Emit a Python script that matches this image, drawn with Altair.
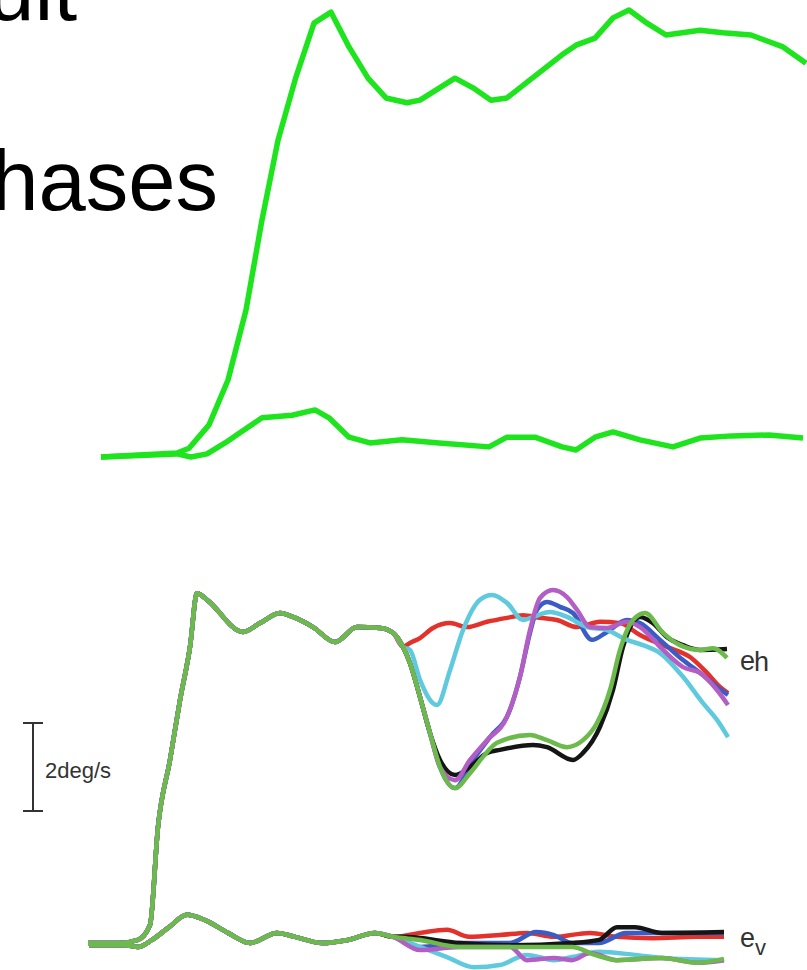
import altair as alt
import pandas as pd

# ---------------- top panel (slide): two green speed traces ----------------
top_t_upper = [0, 76, 88, 108, 127, 145, 161, 177, 195, 213, 230, 248, 267, 285, 306, 319, 354, 372, 390, 406,
               429, 461, 475, 494, 512, 528, 546, 565, 599, 622, 650, 682, 705]
top_v_upper = [0, 0.09, 0.20, 0.73, 1.75, 3.34, 5.39, 7.20, 8.64, 9.86, 10.11, 9.32, 8.61, 8.16, 8.05, 8.11, 8.61,
               8.39, 8.11, 8.16, 8.57, 9.14, 9.36, 9.52, 9.98, 10.16, 9.86, 9.59, 9.70, 9.64, 9.59, 9.32, 8.95]
top_t_lower = [0, 76, 90, 106, 124, 140, 161, 191, 214, 228, 248, 269, 301, 338, 388, 406, 434, 461, 475, 494,
               512, 539, 572, 599, 631, 668, 702]
top_v_lower = [0, 0.07, 0, 0.07, 0.32, 0.57, 0.89, 0.95, 1.07, 0.89, 0.45, 0.32, 0.39, 0.32, 0.23, 0.45, 0.45,
               0.23, 0.16, 0.45, 0.57, 0.39, 0.23, 0.43, 0.48, 0.50, 0.43]

# ---------------- bottom panel: eh / ev for six conditions ----------------
eh_t_common = [0, 32, 50, 62, 70, 82, 92, 102, 109, 119, 155, 172, 192, 205, 225, 247, 269, 292, 305, 315]
eh_v_common = [0, 0, 0.07, 0.41, 2.64, 4.16, 5.52, 6.73, 7.95, 7.80, 7.07, 7.27, 7.50, 7.41, 7.18, 6.84, 7.18,
               7.16, 7.05, 6.73]

red_eh_t = [322, 332, 345, 362, 379, 399, 419, 435, 452, 469, 489, 512, 532, 552, 579, 602, 619, 632, 640]
red_eh_v = [6.82, 6.93, 7.16, 7.27, 7.18, 7.30, 7.39, 7.45, 7.39, 7.34, 7.18, 7.30, 7.27, 7.00, 6.73, 6.50, 6.14,
            5.82, 5.68]
blue_eh_t = [322, 332, 342, 352, 367, 385, 402, 422, 432, 442, 449, 459, 472, 485, 504, 519, 539, 552, 572, 595,
             612, 629, 640]
blue_eh_v = [6.36, 5.59, 4.77, 4.00, 3.52, 4.16, 4.68, 5.30, 6.05, 7.05, 7.57, 7.75, 7.64, 7.50, 6.89, 7.07, 7.34,
             7.27, 6.89, 6.43, 6.14, 5.82, 5.64]
black_eh_t = [322, 332, 342, 352, 367, 382, 399, 412, 445, 459, 485, 495, 512, 525, 535, 552, 565, 579, 595, 612, 639]
black_eh_v = [6.36, 5.59, 4.77, 4.16, 3.82, 4.00, 4.32, 4.39, 4.50, 4.45, 4.16, 4.32, 4.91, 5.75, 6.73, 7.41, 7.27,
              6.95, 6.77, 6.66, 6.68]
cyan_eh_t = [322, 332, 345, 349, 362, 375, 392, 404, 419, 435, 445, 462, 479, 499, 519, 539, 555, 572, 595, 615,
             629, 640]
cyan_eh_v = [6.66, 5.98, 5.45, 5.41, 6.20, 7.11, 7.80, 7.91, 7.73, 7.34, 7.41, 7.52, 7.41, 7.18, 7.11, 6.89, 6.77,
             6.59, 6.05, 5.45, 5.07, 4.68]
magenta_eh_t = [322, 332, 342, 352, 367, 382, 399, 419, 432, 442, 452, 465, 479, 489, 502, 519, 539, 552, 575, 595,
                612, 629, 640]
magenta_eh_v = [6.36, 5.59, 4.77, 4.00, 3.70, 4.16, 4.61, 5.14, 6.05, 7.11, 7.84, 8.02, 7.86, 7.57, 7.18, 7.16,
                7.30, 7.18, 6.66, 6.27, 6.14, 5.75, 5.41]
green_eh_t = [322, 332, 342, 352, 367, 382, 395, 409, 442, 459, 479, 495, 509, 522, 532, 545, 557, 575, 592, 612,
              625, 639]
green_eh_v = [6.36, 5.59, 4.77, 4.00, 3.52, 3.86, 4.23, 4.55, 4.73, 4.61, 4.45, 4.61, 5.00, 5.75, 6.66, 7.34, 7.50,
              7.05, 6.77, 6.66, 6.70, 6.48]

ev_t_common = [1, 37, 50, 64, 81, 99, 117, 140, 162, 189, 207, 234, 260, 287, 305]
ev_v_common = [-0.05, -0.05, -0.09, 0.07, 0.36, 0.64, 0.52, 0.23, 0, 0.23, 0.14, 0, 0.07, 0.23, 0.14]

red_ev_t = [332, 359, 381, 412, 439, 466, 502, 529, 565, 609, 636]
red_ev_v = [0.23, 0.30, 0.14, 0.18, 0.23, 0.14, 0.23, 0.14, 0.11, 0.14, 0.14]
blue_ev_t = [332, 372, 422, 448, 466, 484, 511, 538, 574, 636]
blue_ev_v = [-0.09, 0, 0, 0.25, 0.18, 0, 0, 0.23, 0.23, 0.23]
black_ev_t = [314, 372, 422, 484, 511, 529, 547, 574, 636]
black_ev_v = [0.14, 0, -0.05, 0, 0.07, 0.36, 0.36, 0.23, 0.25]
cyan_ev_t = [332, 359, 386, 412, 439, 466, 484, 511, 547, 574, 636]
cyan_ev_v = [-0.09, -0.32, -0.55, -0.50, -0.27, -0.39, -0.32, -0.20, -0.27, -0.34, -0.39]
magenta_ev_t = [332, 372, 422, 439, 466, 484, 502, 529, 574, 609, 636]
magenta_ev_v = [-0.16, -0.09, -0.09, -0.39, -0.34, -0.39, -0.23, -0.39, -0.34, -0.45, -0.39]
green_ev_t = [332, 372, 439, 484, 507, 529, 574, 609, 636]
green_ev_v = [0.07, -0.09, -0.09, -0.09, -0.27, -0.39, -0.34, -0.45, -0.36]

series_names = ["red", "blue", "black", "cyan", "magenta", "green"]
series_colors = ["#e2322b", "#3b5cc6", "#151515", "#5fc9de", "#b25ec4", "#6cba4c"]
series_eh = {
    "red": (red_eh_t, red_eh_v), "blue": (blue_eh_t, blue_eh_v), "black": (black_eh_t, black_eh_v),
    "cyan": (cyan_eh_t, cyan_eh_v), "magenta": (magenta_eh_t, magenta_eh_v), "green": (green_eh_t, green_eh_v),
}
series_ev = {
    "red": (red_ev_t, red_ev_v), "blue": (blue_ev_t, blue_ev_v), "black": (black_ev_t, black_ev_v),
    "cyan": (cyan_ev_t, cyan_ev_v), "magenta": (magenta_ev_t, magenta_ev_v), "green": (green_ev_t, green_ev_v),
}

scale_bar_lo = [3.0]
scale_bar_hi = [5.0]

# ---------------- scales ----------------
X_TOP = alt.Scale(domain=[0, 705], range=[101, 806], nice=False, zero=False)
Y_TOP = alt.Scale(domain=[0, 10], range=[457, 17], nice=False, zero=False)
X_BOT = alt.Scale(domain=[0, 640], range=[88, 728], nice=False, zero=False)
Y_BOT = alt.Scale(domain=[0, 8], range=[943, 591], nice=False, zero=False)

# top panel
top_df = pd.concat([
    pd.DataFrame({"t": top_t_upper, "v": top_v_upper, "curve": "upper"}),
    pd.DataFrame({"t": top_t_lower, "v": top_v_lower, "curve": "lower"}),
])
top = alt.Chart(top_df).mark_line(color="#1ee41e", strokeWidth=5.5, strokeJoin="round").encode(
    x=alt.X("t:Q", scale=X_TOP, axis=None),
    y=alt.Y("v:Q", scale=Y_TOP, axis=None),
    detail="curve:N",
)

# bottom panel
bottom_layers = []
for name, col in zip(series_names, series_colors):
    et, ev = series_eh[name]
    vt, vv = series_ev[name]
    df = pd.concat([
        pd.DataFrame({"t": eh_t_common + et, "v": eh_v_common + ev, "comp": "eh"}),
        pd.DataFrame({"t": ev_t_common + vt, "v": ev_v_common + vv, "comp": "ev"}),
    ])
    bottom_layers.append(
        alt.Chart(df).mark_line(color=col, strokeWidth=4.5, interpolate="monotone", strokeJoin="round").encode(
            x=alt.X("t:Q", scale=X_BOT, axis=None),
            y=alt.Y("v:Q", scale=Y_BOT, axis=None),
            detail="comp:N",
        )
    )

bar_df = pd.DataFrame({"lo": scale_bar_lo, "hi": scale_bar_hi})
bar = alt.Chart(bar_df).mark_rule(color="#333333", strokeWidth=2).encode(
    x=alt.value(33),
    y=alt.Y("lo:Q", scale=Y_BOT, axis=None),
    y2="hi:Q",
)
cap_hi = alt.Chart(bar_df).mark_rule(color="#333333", strokeWidth=2).encode(
    x=alt.value(23), x2=alt.value(43),
    y=alt.Y("hi:Q", scale=Y_BOT, axis=None),
)
cap_lo = alt.Chart(bar_df).mark_rule(color="#333333", strokeWidth=2).encode(
    x=alt.value(23), x2=alt.value(43),
    y=alt.Y("lo:Q", scale=Y_BOT, axis=None),
)
bottom = alt.layer(*bottom_layers, bar, cap_hi, cap_lo)


def label(txt, x, y, size, align="left", color="#222222", font="Liberation Sans"):
    return alt.Chart(pd.DataFrame({"s": [txt]})).mark_text(
        align=align, baseline="alphabetic", fontSize=size, font=font, color=color
    ).encode(x=alt.value(x), y=alt.value(y), text="s:N")


texts = alt.layer(
    label("uit", 77, 20, 85, align="right", color="#000000"),
    label("hases", 218, 210, 85, align="right", color="#000000"),
    label("2deg/s", 45, 778, 22, color="#333333"),
    label("e", 740, 670, 27, color="#333333"),
    label("h", 754, 671, 27, color="#333333"),
    label("e", 740, 947, 27, color="#333333"),
    label("v", 755, 955, 22, color="#333333"),
)

chart = alt.layer(top, bottom, texts).resolve_scale(
    x="independent", y="independent"
).properties(
    width=807, height=970, padding=0, autosize="none"
).configure_view(stroke=None)

chart.save("out.html", embed_options={"renderer": "svg", "actions": False})
